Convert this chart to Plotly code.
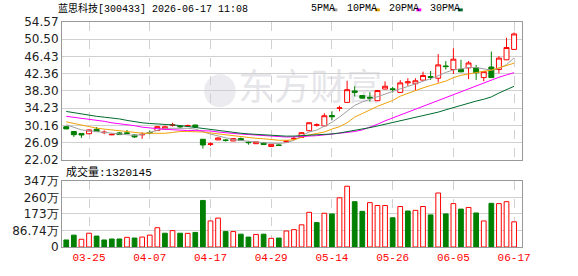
import plotly.graph_objects as go

# ---------------- data ----------------
dates = ["03-20", "03-23", "03-24", "03-25", "03-26", "03-27", "03-30", "03-31", "04-01", "04-02",
         "04-03", "04-07", "04-08", "04-09", "04-10", "04-13", "04-14", "04-15", "04-16", "04-17",
         "04-20", "04-21", "04-22", "04-23", "04-24", "04-27", "04-28", "04-29", "04-30", "05-06",
         "05-07", "05-08", "05-11", "05-12", "05-13", "05-14", "05-15", "05-18", "05-19", "05-20",
         "05-21", "05-22", "05-25", "05-26", "05-27", "05-28", "05-29", "06-01", "06-02", "06-03",
         "06-04", "06-05", "06-08", "06-09", "06-10", "06-11", "06-12", "06-15", "06-16", "06-17"]

open_ = [29.87, 28.72, 28.27, 28.20, 29.25, 28.45, 27.95, 28.40, 28.40, 27.90,
         27.95, 28.50, 28.95, 29.30, 30.20, 29.95, 30.00, 30.26, 26.90, 25.70,
         26.75, 26.75, 26.50, 27.05, 26.20, 25.85, 26.05, 25.20, 25.55, 26.30,
         27.00, 27.35, 28.90, 30.20, 30.05, 32.50, 34.20, 35.60, 38.30, 37.20,
         36.80, 36.00, 38.75, 38.80, 37.95, 40.20, 40.00, 40.85, 41.70, 41.30,
         44.20, 43.35, 43.40, 43.75, 43.75, 41.45, 43.95, 43.35, 45.65, 48.10]
high = [29.95, 28.80, 28.30, 29.20, 29.80, 29.00, 28.20, 28.60, 29.10, 28.00,
        28.55, 28.95, 29.95, 30.10, 30.80, 30.25, 30.35, 30.30, 26.95, 26.15,
        27.35, 26.95, 27.10, 27.30, 26.50, 26.35, 26.10, 25.75, 25.65, 26.60,
        27.50, 28.50, 30.85, 30.65, 33.05, 33.50, 34.80, 40.70, 39.40, 37.30,
        38.00, 38.50, 40.55, 39.30, 40.85, 41.30, 41.30, 42.85, 43.00, 47.00,
        45.35, 48.35, 45.65, 45.35, 44.45, 42.90, 47.60, 46.50, 50.85, 52.10]
low = [29.30, 27.45, 27.20, 28.10, 28.60, 28.10, 27.85, 27.95, 28.20, 27.20,
       27.00, 28.10, 28.90, 29.25, 29.90, 29.50, 29.95, 29.75, 24.70, 25.30,
       26.70, 26.35, 26.45, 26.55, 25.60, 25.80, 25.55, 25.10, 25.30, 26.20,
       26.70, 27.20, 28.80, 29.90, 29.95, 31.40, 33.50, 35.50, 37.00, 36.50,
       35.80, 35.90, 38.70, 37.90, 37.80, 39.50, 38.30, 40.80, 40.90, 40.30,
       43.35, 42.30, 42.75, 41.10, 40.90, 40.60, 41.40, 42.45, 45.60, 48.00]
close = [29.34, 27.97, 27.90, 29.10, 28.72, 28.55, 28.05, 28.00, 28.30, 27.45,
         28.05, 28.40, 29.87, 29.85, 30.30, 29.85, 30.15, 29.80, 25.55, 25.80,
         27.20, 26.60, 27.05, 26.60, 26.10, 26.28, 25.65, 25.70, 25.45, 26.45,
         27.10, 28.45, 30.80, 30.30, 32.45, 32.20, 34.30, 38.60, 37.95, 36.60,
         36.60, 38.40, 39.40, 38.65, 40.20, 40.45, 40.70, 41.95, 41.50, 44.45,
         44.05, 45.80, 42.80, 44.90, 42.60, 42.85, 41.45, 46.05, 48.55, 51.75]

ma5 = [30.33, 29.75, 29.11, 28.88, 28.66, 28.50, 28.33, 28.15, 27.97, 27.81,
       28.04, 28.50, 28.95, 29.48, 29.48, 29.48, 29.48, 29.30, 28.66, 28.11,
       27.69, 27.19, 26.82, 26.60, 26.37, 26.21, 26.09, 25.98, 25.91, 26.09,
       26.66, 27.69, 28.61, 29.07, 29.98, 30.90, 32.15, 33.64, 34.90, 35.70,
       36.34, 36.96, 37.64, 38.22, 38.79, 39.36, 39.93, 40.55, 41.19, 41.88,
       42.68, 43.25, 43.59, 43.82, 43.82, 43.48, 43.20, 43.59, 44.51, 46.11]
ma10 = [31.01, 30.62, 30.26, 29.87, 29.52, 29.30, 29.11, 28.84, 28.61, 28.45,
        28.33, 28.31, 28.27, 28.31, 28.50, 28.72, 28.72, 28.72, 28.61, 28.38,
        28.15, 27.97, 27.69, 27.47, 27.28, 27.12, 27.01, 26.78, 26.66, 26.66,
        26.78, 27.35, 27.92, 28.27, 28.61, 29.30, 29.87, 30.78, 32.15, 32.96,
        33.87, 34.67, 35.36, 36.04, 37.07, 37.76, 38.33, 39.02, 39.59, 40.05,
        40.62, 41.42, 41.99, 42.29, 42.68, 42.95, 43.20, 43.71, 44.28, 44.85]
ma20 = [32.31, 32.09, 31.81, 31.54, 31.35, 31.13, 30.78, 30.55, 30.39, 30.10,
        29.75, 29.52, 29.41, 29.25, 29.11, 29.00, 28.95, 28.95, 28.91, 28.84,
        28.61, 28.38, 28.27, 28.13, 27.99, 27.85, 27.74, 27.58, 27.47, 27.42,
        27.47, 27.53, 27.58, 27.74, 27.92, 28.11, 28.27, 28.50, 28.72, 29.11,
        29.75, 30.44, 31.24, 31.93, 32.57, 33.18, 33.89, 34.62, 35.33, 35.97,
        36.68, 37.39, 38.06, 38.74, 39.47, 40.21, 40.91, 41.53, 42.08, 42.61]
ma30 = [33.46, 33.14, 32.84, 32.54, 32.31, 32.11, 31.93, 31.70, 31.35, 31.01,
        30.78, 30.62, 30.55, 30.44, 30.28, 30.14, 29.91, 29.68, 29.45, 29.18,
        28.88, 28.68, 28.50, 28.31, 28.17, 28.04, 27.92, 27.81, 27.69, 27.63,
        27.65, 27.74, 27.81, 27.90, 27.99, 28.15, 28.38, 28.66, 28.95, 29.30,
        29.64, 30.03, 30.42, 30.81, 31.19, 31.61, 32.04, 32.47, 32.91, 33.30,
        33.85, 34.40, 34.92, 35.45, 35.91, 36.34, 36.89, 37.80, 38.67, 39.41]

# volume in 万
volume = [36.9, 62.2, 40.5, 72.3, 57.2, 36.9, 42.0, 42.0, 50.6, 47.0,
          52.1, 62.2, 101.2, 72.3, 86.0, 72.3, 71.5, 76.5, 244.2, 136.6,
          151.7, 80.9, 80.9, 67.3, 52.1, 65.8, 67.3, 45.5, 47.0, 84.0,
          91.0, 116.3, 182.0, 128.0, 177.0, 173.5, 258.0, 318.7, 237.7, 187.1,
          232.7, 217.5, 217.5, 153.3, 212.4, 188.7, 192.2, 212.4, 168.4, 283.2,
          173.5, 227.6, 198.8, 207.4, 178.5, 136.6, 229.1, 227.6, 237.7, 132.0]
# 1 = up (red hollow bar), 0 = down (green filled bar)
vol_up = [0, 0, 1, 1, 0, 0, 0, 0, 1, 0,
          1, 1, 1, 0, 1, 0, 1, 0, 0, 1,
          1, 0, 1, 0, 0, 1, 0, 1, 0, 1,
          1, 1, 1, 0, 1, 0, 1, 1, 0, 0,
          1, 1, 1, 0, 1, 0, 1, 1, 0, 1,
          0, 1, 0, 1, 0, 1, 0, 1, 1, 1]

tick_dates = ["03-25", "04-07", "04-17", "04-29", "05-14", "05-26", "06-05", "06-17"]
price_ticks = [22.02, 26.09, 30.16, 34.23, 38.30, 42.36, 46.43, 50.50, 54.57]
vol_ticks = [0, 86.74, 173.48, 260.22, 346.96]
vol_tick_text = ["0", "86.74万", "173万", "260万", "347万"]

title_text = "蓝思科技[300433] 2026-06-17 11:08"
vol_label = "成交量:1320145"
ma_names = ["5PMA", "10PMA", "20PMA", "30PMA"]

# ---------------- style ----------------
RED = "#ff0000"
GREEN = "#008000"
MA_COLORS = ["#a0a0a0", "#f0a30a", "#ff00ff", "#006b2e"]
GRID = "#d0d0d0"
FRAME = "#999999"
W, H = 578, 276
ML, MR, MT, MB = 56, 56, 22, 22
PW, PH = W - ML - MR, H - MT - MB


def px(x):
    return (x - ML) / PW


def py(y):
    return (H - MB - y) / PH


MONO = "Liberation Mono, Noto Sans CJK SC, monospace"

fig = go.Figure()

fig.add_trace(go.Candlestick(
    x=dates, open=open_, high=high, low=low, close=close,
    increasing=dict(line=dict(color=RED, width=1), fillcolor="white"),
    decreasing=dict(line=dict(color=GREEN, width=1), fillcolor=GREEN),
    whiskerwidth=0, hoverinfo="skip", xaxis="x", yaxis="y"))

for name, vals, col in zip(ma_names, [ma5, ma10, ma20, ma30], MA_COLORS):
    fig.add_trace(go.Scatter(x=dates, y=vals, mode="lines", name=name,
                             line=dict(color=col, width=1), hoverinfo="skip",
                             xaxis="x", yaxis="y"))

fig.add_trace(go.Bar(
    x=dates, y=volume, width=0.62,
    marker=dict(color=["white" if u else GREEN for u in vol_up],
                line=dict(color=[RED if u else GREEN for u in vol_up], width=1)),
    hoverinfo="skip", xaxis="x2", yaxis="y2"))

xr = [-0.56, 60.04]
common_x = dict(type="category", categoryorder="array", categoryarray=dates, range=xr,
                tickmode="array", tickvals=tick_dates, showgrid=True, gridcolor=GRID,
                griddash="dash", gridwidth=1, showline=True, linecolor=FRAME, linewidth=1,
                mirror=True, ticks="", zeroline=False, fixedrange=True)
common_y = dict(showgrid=True, gridcolor=GRID, gridwidth=1, showline=True, linecolor=FRAME,
                linewidth=1, mirror=True, ticks="", zeroline=False, fixedrange=True,
                tickfont=dict(family="DejaVu Sans", size=12, color="#222222"))

fig.update_layout(
    width=W, height=H, margin=dict(l=ML, r=MR, t=MT, b=MB),
    paper_bgcolor="white", plot_bgcolor="white", showlegend=False,
    boxgap=0.35, boxgroupgap=0,
    xaxis=dict(common_x, domain=[0, 1], anchor="y", showticklabels=False,
               rangeslider=dict(visible=False)),
    yaxis=dict(common_y, domain=[0.387, 1], range=[price_ticks[0], price_ticks[-1]],
               tickmode="array", tickvals=price_ticks,
               ticktext=["%.2f" % v for v in price_ticks]),
    xaxis2=dict(common_x, domain=[0, 1], anchor="y2", showticklabels=True,
                tickfont=dict(family=MONO, size=11, color=RED)),
    yaxis2=dict(common_y, domain=[0, 0.294], range=[vol_ticks[0], vol_ticks[-1]],
                tickmode="array", tickvals=vol_ticks, ticktext=vol_tick_text),
)

ann = [
    dict(text=title_text, x=px(50), y=py(8), xanchor="left", yanchor="middle",
         font=dict(family=MONO, size=10, color="#000000")),
    dict(text=vol_label, x=px(58), y=py(177), xanchor="left", yanchor="middle",
         font=dict(family=MONO, size=11, color="#000000")),
]
legend_x = [306, 343, 385, 427]
square_x = [330, 373, 415, 457]
shapes = []
for name, col, lx, sx in zip(ma_names, MA_COLORS, legend_x, square_x):
    ann.append(dict(text=name, x=px(lx), y=py(8), xanchor="left", yanchor="middle",
                    font=dict(family=MONO, size=10, color="#000000")))
    shapes.append(dict(type="rect", xref="paper", yref="paper", x0=px(sx), x1=px(sx + 5),
                       y0=py(11), y1=py(8), line=dict(width=0), fillcolor=col))
for a in ann:
    a.update(xref="paper", yref="paper", showarrow=False)

# watermark
shapes.append(dict(type="rect", xref="paper", yref="paper", layer="below",
                   x0=px(235), x1=px(380), y0=py(112), y1=py(73),
                   line=dict(width=0), fillcolor="rgba(0,0,0,0)",
                   label=dict(text="东方财富", textposition="middle center",
                              font=dict(family="Noto Sans CJK SC", size=36, color="#e6e6ea"))))
shapes.append(dict(type="circle", xref="paper", yref="paper", layer="below",
                   x0=px(200), x1=px(232), y0=py(110), y1=py(76),
                   line=dict(width=0), fillcolor="#ececf0"))

fig.update_layout(annotations=ann, shapes=shapes)
fig.write_html("out.html")
